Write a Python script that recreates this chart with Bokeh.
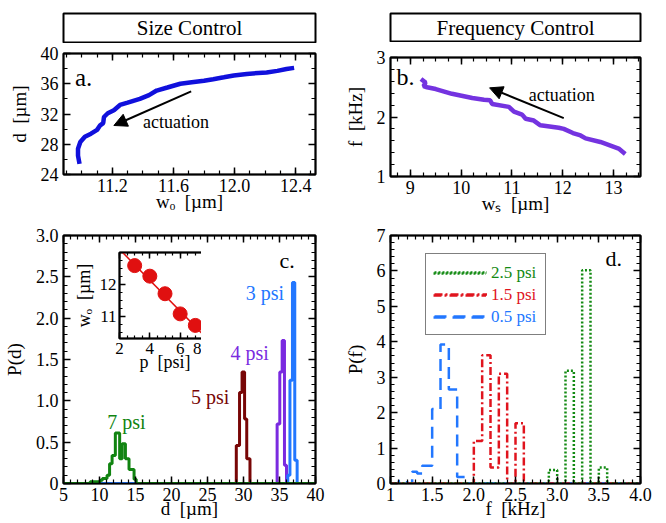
import numpy as np
from bokeh.plotting import figure
from bokeh.layouts import column, row
from bokeh.models import (FixedTicker, LinearAxis, Label, Arrow, NormalHead,
                          Legend, LegendItem, Range1d)
from bokeh.embed import file_html
from bokeh.resources import INLINE

FONT = "Liberation Serif"
SP = "\u00a0 "

# ---------------- data ----------------
# panel a: droplet size vs orifice width
a_wo = [10.985, 10.975, 10.975, 10.99, 11.02, 11.06, 11.10, 11.12, 11.14, 11.145, 11.17, 11.21,
        11.25, 11.30, 11.38, 11.44, 11.49, 11.56, 11.645, 11.72, 11.80, 11.86, 11.93, 11.995,
        12.08, 12.21, 12.28, 12.34, 12.39]
a_d = [25.4, 26.5, 27.4, 28.3, 29.0, 29.4, 29.9, 30.5, 30.8, 31.6, 32.1, 32.5,
       33.2, 33.5, 34.0, 34.5, 35.1, 35.5, 36.0, 36.2, 36.4, 36.6, 36.85, 37.1,
       37.3, 37.5, 37.7, 37.95, 38.1]

# panel b: frequency vs w_s
b_ws = [9.21, 9.30, 9.26, 9.33, 9.50, 9.82, 10.22, 10.45, 10.57, 10.61, 10.94, 11.04, 11.20,
        11.27, 11.43, 11.56, 11.92, 12.02, 12.20, 12.35, 12.45, 12.74, 13.10, 13.23]
b_f = [2.64, 2.58, 2.52, 2.50, 2.47, 2.39, 2.32, 2.29, 2.28, 2.22, 2.17, 2.09, 2.04,
       1.97, 1.94, 1.86, 1.82, 1.80, 1.73, 1.69, 1.64, 1.58, 1.47, 1.38]

# panel c: P(d) histograms (bin edges, heights)
c7_edges = [5, 8.7, 10.1, 10.4, 11.05, 11.4, 11.75, 12.2, 12.8, 13.15, 13.6, 14.1, 14.8, 15.1, 40]
c7_vals = [0, 0.02, 0.04, 0.06, 0.1, 0.24, 0.34, 0.61, 0.3, 0.48, 0.3, 0.17, 0.05, 0]
c5_edges = [5, 29.0, 29.45, 29.8, 30.15, 30.45, 30.9, 40]
c5_vals = [0, 0.46, 1.1, 1.35, 0.78, 0.3, 0]
c4_edges = [5, 34.67, 35.04, 35.37, 35.69, 35.97, 40]
c4_vals = [0, 0.72, 1.35, 1.73, 0.22, 0]
c3_edges = [5, 36.15, 36.45, 36.8, 37.12, 37.45, 40]
c3_vals = [0, 0.1, 1.25, 2.43, 0.28, 0]

# inset: w_o vs pressure
ins_p = [3, 4, 5, 6, 7]
ins_w = [12.59, 12.26, 11.71, 11.08, 10.72]
fit_p = [2.0, 8.0]
fit_w = [13.10, 10.20]

# panel d: P(f) histograms
d05_edges = [1.0, 1.1, 1.2, 1.26, 1.32, 1.38, 1.5, 1.6, 1.7, 1.8, 1.9, 4.0]
d05_vals = [0, 0.07, 0, 0.33, 0.28, 0.5, 2.1, 3.92, 2.65, 0.18, 0]
d15_edges = [1.0, 2.0, 2.1, 2.2, 2.3, 2.4, 2.5, 2.6, 4.0]
d15_vals = [0, 1.2, 3.62, 0.45, 3.1, 0, 1.7, 0]
d25_edges = [1.0, 2.9, 3.0, 3.1, 3.2, 3.3, 3.4, 3.5, 3.6, 4.0]
d25_vals = [0, 0.38, 0, 3.18, 0, 6.02, 0, 0.45, 0]

# colours
A_COL = "#1010dc"
B_COL = "#7433e0"
C3_COL = "#2277ff"
C4_COL = "#7a2ae0"
C5_COL = "#780606"
C7_COL = "#118411"
D25_COL = "#138a13"
D15_COL = "#e0141e"
D05_COL = "#2277ff"


def mk(width, height, xr, yr, bl, br, bt, bb):
    p = figure(width=width, height=height, x_range=Range1d(*xr), y_range=Range1d(*yr),
               toolbar_location=None, output_backend="svg",
               min_border_left=bl, min_border_right=br, min_border_top=bt, min_border_bottom=bb)
    p.grid.visible = False
    p.outline_line_color = "black"
    p.outline_line_width = 2
    p.background_fill_color = "white"
    return p


def axes(p, xmaj, xmin, ymaj, ymin, xlabel, ylabel, xover=None, yover=None,
         tick_fs="18px", lab_fs="19px", tin=7, tmin=4, ylab_standoff=8, xlab_standoff=-4,
         ylab_tick_standoff=5):
    xt = FixedTicker(ticks=xmaj, minor_ticks=xmin)
    yt = FixedTicker(ticks=ymaj, minor_ticks=ymin)
    xb = p.below[0]
    yl = p.left[0]
    xb.ticker = xt
    yl.ticker = yt
    xa = LinearAxis(ticker=xt)
    yr = LinearAxis(ticker=yt)
    p.add_layout(xa, "above")
    p.add_layout(yr, "right")
    for ax in (xb, yl, xa, yr):
        ax.major_tick_in = tin
        ax.major_tick_out = 0
        ax.minor_tick_in = tmin
        ax.minor_tick_out = 0
        ax.major_tick_line_width = 1.5
        ax.minor_tick_line_width = 1.2
        ax.axis_line_width = 1.5
        ax.major_label_text_font = FONT
        ax.major_label_text_font_size = tick_fs
        ax.major_label_text_color = "black"
        ax.axis_label_text_font = FONT
        ax.axis_label_text_font_size = lab_fs
        ax.axis_label_text_font_style = "normal"
        ax.axis_label_text_color = "black"
    xa.major_label_overrides = {t: "" for t in xmaj}
    yr.major_label_overrides = {t: "" for t in ymaj}
    for ax in (xa, yr):
        ax.major_label_text_font_size = "1px"
        ax.major_label_standoff = 0
        ax.axis_label_standoff = 0
    xb.major_label_standoff = 4
    yl.major_label_standoff = ylab_tick_standoff
    xb.axis_label = xlabel
    yl.axis_label = ylabel
    xb.axis_label_standoff = xlab_standoff
    yl.axis_label_standoff = ylab_standoff
    if xover:
        xb.major_label_overrides = xover
    if yover:
        yl.major_label_overrides = yover
    return p


def title_box(width, height, text, bl, br, bt, bb):
    p = figure(width=width, height=height, x_range=Range1d(0, 1), y_range=Range1d(0, 1),
               x_axis_type=None, y_axis_type=None, toolbar_location=None, output_backend="svg",
               min_border_left=bl, min_border_right=br, min_border_top=bt, min_border_bottom=bb)
    p.grid.visible = False
    p.outline_line_color = "black"
    p.outline_line_width = 2
    p.add_layout(Label(x=0.5, y=0.5, text=text, text_align="center", text_baseline="middle",
                       text_font=FONT, text_font_size="21px", text_color="black"))
    return p


def rng(lo, hi, st):
    return [round(v, 4) for v in np.arange(lo, hi + st / 2, st)]


def lab(p, x, y, text, size, color="black"):
    p.add_layout(Label(x=x, y=y, text=text, text_font=FONT, text_font_size=size,
                       text_color=color, text_baseline="middle"))


# ---------------- panel a ----------------
pa = mk(335, 175, (10.88, 12.53), (24, 40), 63, 20, 10, 44)
axes(pa, [11.2, 11.6, 12.0, 12.4], rng(10.9, 12.5, 0.1), [24, 28, 32, 36, 40], rng(24, 40, 2),
     "wₒ" + SP + "[µm]", "d" + SP + "[µm]", xover={12: "12.0"})
pa.line(a_wo, a_d, line_color=A_COL, line_width=4.5)
pa.add_layout(Arrow(x_start=11.716, y_start=35.0, x_end=11.21, y_end=30.48, line_width=2,
                    end=NormalHead(size=13, fill_color="black", line_color="black")))
lab(pa, 11.40, 31.0, "actuation", "18px")
lab(pa, 10.955, 36.8, "a.", "25px")

# ---------------- panel b ----------------
pb = mk(328, 176, (8.61, 13.53), (1, 3), 55, 23, 15, 42)
axes(pb, [9, 10, 11, 12, 13], rng(8.75, 13.5, 0.25), [1, 2, 3], rng(1, 3, 0.2),
     "wₛ" + SP + "[µm]", "f" + SP + "[kHz]")
pb.line(b_ws, b_f, line_color=B_COL, line_width=4.5)
pb.add_layout(Arrow(x_start=12.02, y_start=1.98, x_end=10.56, y_end=2.49, line_width=2,
                    end=NormalHead(size=13, fill_color="black", line_color="black")))
lab(pb, 11.33, 2.37, "actuation", "18px")
lab(pb, 8.73, 2.68, "b.", "24px")

# ---------------- panel c ----------------
pc = mk(335, 303, (5, 40), (0, 3), 63, 20, 17, 38)
axes(pc, rng(5, 40, 5), rng(5, 40, 1), rng(0, 3, 0.5), rng(0, 3, 0.1),
     "d" + SP + "[µm]", "P(d)", yover={0: "0", 1: "1.0", 2: "2.0", 3: "3.0"}, xlab_standoff=-6)
for edges, vals, col in ((c5_edges, c5_vals, C5_COL), (c4_edges, c4_vals, C4_COL),
                         (c3_edges, c3_vals, C3_COL), (c7_edges, c7_vals, C7_COL)):
    pc.step(edges, list(vals) + [0], mode="after", line_color=col, line_width=3)
for txt, x, y, col in (("3 psi", 30.3, 2.31, C3_COL), ("4 psi", 28.2, 1.58, C4_COL),
                       ("5 psi", 22.7, 1.05, C5_COL), ("7 psi", 11.07, 0.75, C7_COL)):
    lab(pc, x, y, txt, "20px", col)
lab(pc, 35.0, 2.70, "c.", "22px")

# ---------------- inset ----------------
pin = figure(frame_width=91, frame_height=86, x_range=Range1d(2, 8), y_range=Range1d(10.31, 13.0),
             toolbar_location=None, output_backend="svg",
             min_border_left=50, min_border_right=4, min_border_top=4, min_border_bottom=40)
pin.grid.visible = False
pin.outline_line_color = "black"
pin.outline_line_width = 2
pin.background_fill_color = "white"
pin.border_fill_alpha = 0
axes(pin, [2, 4, 6, 8], rng(2, 8, 0.5), [11, 12], rng(10.5, 13, 0.25),
     "p" + SP + "[psi]", "wₒ" + SP + "[µm]", tick_fs="17px", lab_fs="18px", tin=6, tmin=3,
     ylab_standoff=3, xlab_standoff=-5, ylab_tick_standoff=3)
pin.line(fit_p, fit_w, line_color="#e01010", line_width=1.5)
pin.scatter(ins_p, ins_w, size=14, fill_color="#e01010", line_color="#e01010")
pin.margin = (-273, 0, 0, 56)

# ---------------- panel d ----------------
pd_ = mk(328, 303, (1, 4), (0, 7), 55, 23, 17, 38)
axes(pd_, [1, 1.5, 2, 2.5, 3, 3.5, 4], rng(1, 4, 0.1), list(range(0, 8)), rng(0, 7, 0.2),
     "f" + SP + "[kHz]", "P(f)", xover={1: "1", 2: "2.0", 3: "3.0", 4: "4.0"}, xlab_standoff=-6)
r05 = pd_.step(d05_edges, list(d05_vals) + [0], mode="after", line_color=D05_COL,
               line_width=2.5, line_dash="12 7")
r15 = pd_.step(d15_edges, list(d15_vals) + [0], mode="after", line_color=D15_COL,
               line_width=2.5, line_dash="8 3 2 3")
r25 = pd_.step(d25_edges, list(d25_vals) + [0], mode="after", line_color=D25_COL,
               line_width=2.5, line_dash="2 2")
lab(pd_, 3.58, 6.36, "d.", "22px")

leg_items = [("2.5 psi", r25, D25_COL), ("1.5 psi", r15, D15_COL), ("0.5 psi", r05, D05_COL)]
common = dict(padding=8, spacing=2, glyph_width=53, glyph_height=20, label_height=20,
              label_standoff=5, label_text_font=FONT, label_text_font_size="17px", margin=0)
box = Legend(items=[LegendItem(label=l, renderers=[r]) for l, r, c in leg_items],
             location=(35, 148), label_text_alpha=0, border_line_color="black",
             border_line_width=1.5, background_fill_color="white", background_fill_alpha=1,
             **common)
pd_.add_layout(box)
for i, (l, r, c) in enumerate(leg_items):
    pd_.add_layout(Legend(items=[LegendItem(label=l, renderers=[r])],
                          location=(35, 148 + (2 - i) * 22), label_text_color=c,
                          border_line_alpha=0, background_fill_alpha=0, **common))

# ---------------- titles ----------------
ta = title_box(335, 43, "Size Control", 63, 20, 13, 1)
tb = title_box(328, 42, "Frequency Control", 55, 23, 13, 1)

left = column(ta, pa, pc, pin, spacing=0)
right = column(tb, pb, pd_, spacing=0)
page = row(left, right, spacing=0)

open("out.html", "w").write(file_html(page, INLINE))
